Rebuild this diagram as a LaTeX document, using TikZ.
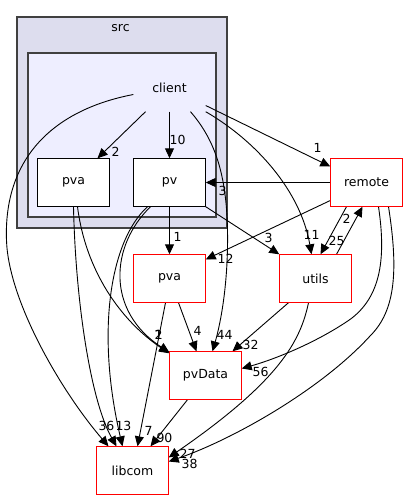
\documentclass[tikz,border=0pt]{standalone}
\usepackage{fontspec}
\setmainfont{DejaVu Sans}
\usetikzlibrary{arrows.meta}
\definecolor{srcfill}{HTML}{DDDDEE}
\definecolor{clientfill}{HTML}{EEEEFF}
\definecolor{clusterline}{HTML}{404040}
\definecolor{dirred}{HTML}{FF0000}
\pgfdeclarelayer{clusterlayer}
\pgfdeclarelayer{edgelayer}
\pgfsetlayers{clusterlayer,edgelayer,main}
\begin{document}
\begin{tikzpicture}
[x=1pt,y=-1pt,
  font=\fontsize{12.5}{14}\selectfont,
  clusterdecorate/.style={draw=clusterline,line width=2pt},%
  dirbox/.style={shape=rectangle,fill=white,
    minimum width=72pt,minimum height=48pt,inner sep=0pt},%
  dirframe/.style={line width=1pt},%
  dirlabel/.style={shape=rectangle,minimum width=72pt,minimum height=48pt,inner sep=0pt},%
  linedecorate/.style={-{Triangle[length=10pt,width=9pt]},line width=0.9pt},%
  edgelabel/.style={inner sep=0pt}]
\useasboundingbox (-0.5,-0.5) rectangle (407.5,499.5);
%% clusters
\begin{pgfonlayer}{clusterlayer}
\draw[clusterdecorate,fill=srcfill] (16.5,16.5) rectangle (226.5,227.5);
\draw[clusterdecorate,fill=clientfill] (27.5,52.5) rectangle (215.5,216.5);
\end{pgfonlayer}
\node (srclabel) at (120,28) {src};
\node (client) at (169,87) [dirlabel] {client};
%% nodes or directories
\foreach \nodename/\x/\y/\nodetext in {pvain/73/182/pva, pv/169/182/pv,
  remote/366/182/remote, pvaout/169/278/pva, utils/315/278/utils,
  pvdata/205/375/pvData, libcom/132/470/libcom} {
  \node (\nodename) at (\x,\y) [dirbox] {\nodetext};
}
\begin{pgfonlayer}{edgelayer}
%% straight edges
\foreach \startnode/\fdx/\fdy/\endnode/\tdx/\tdy/\lx/\ly/\num in {
  client.south/-24/0/pvain.north/24/0/115/151/2,
  client.south/0/0/pv.north/0/0/177/139/10,
  client.east/0/18/remote.west/0/-16/317/147/1,
  remote.west/0/0/pv.east/0/0/222/190/3,
  pv.south east/0/0/utils.north west/0/0/268/237/3,
  remote.west/0/18/pvaout.east/0/-19/225/258/12,
  remote.south/-20/0/utils.north/5/0/336/240/25,
  utils.north/21/0/remote.south/-4/0/346/218/2,
  utils.south/-27/0/pvdata.north/27/0/250/344/32,
  pv.south/0/0/pvaout.north/0/0/177/236/1,
  pvaout.south/9/0/pvdata.north/-9/0/197/330/4,
  pvaout.south/-4/0/libcom.north/5/0/148/430/7,
  pvdata.south/-18/0/libcom.north/18/0/164/437/90} {
  \draw[linedecorate] ([shift={(\fdx,\fdy)}]\startnode)
    -- ([shift={(\tdx,\tdy)}]\endnode) node[edgelabel] at (\lx,\ly) {\num};
}
%% curved edges
\draw[linedecorate] ([shift={(0,7)}]client.west) .. controls (50,110) and (3,160)
  .. (6,240) .. controls (8,300) and (60,390) .. ([shift={(-24,0)}]libcom.north)
  node[edgelabel] at (106,425) {36};
\draw[linedecorate] ([shift={(21,0)}]client.south) .. controls (215,140) and (226,175)
  .. (227,230) .. controls (228,290) and (218,330) .. ([shift={(7,0)}]pvdata.north)
  node[edgelabel] at (224,334) {44};
\draw[linedecorate] (client.south east) .. controls (255,140) and (300,190)
  .. ([shift={(-4,0)}]utils.north) node[edgelabel] at (311,234) {11};
\draw[linedecorate] ([shift={(12,0)}]remote.south) .. controls (386,260) and (380,300)
  .. (345,322) .. controls (310,345) and (270,360) .. ([shift={(0,-7)}]pvdata.east)
  node[edgelabel] at (260,371) {56};
\draw[linedecorate] ([shift={(22,0)}]remote.south) .. controls (398,270) and (395,310)
  .. (370,335) .. controls (320,390) and (230,440) .. ([shift={(0,-9)}]libcom.east)
  node[edgelabel] at (189,463) {38};
\draw[linedecorate] ([shift={(-7,0)}]utils.south) .. controls (300,340) and (280,380)
  .. ([shift={(0,-13)}]libcom.east) node[edgelabel] at (187,453) {27};
\draw[linedecorate] (pvain.south) .. controls (75,300) and (90,400)
  .. ([shift={(-16,0)}]libcom.north);
\draw[linedecorate] ([shift={(4,0)}]pvain.south) .. controls (85,270) and (120,320)
  .. ([shift={(0,2)}]pvdata.north west) node[edgelabel] at (158,334) {1};
\draw[linedecorate] ([shift={(-19,0)}]pv.south) .. controls (110,245) and (105,310)
  .. ([shift={(0,1)}]pvdata.north west) node[edgelabel] at (158,334) {2};
\draw[linedecorate] ([shift={(-22,0)}]pv.south) .. controls (110,240) and (95,330)
  .. ([shift={(-10,0)}]libcom.north) node[edgelabel] at (123,425) {13};
\end{pgfonlayer}
%% directory frames
\foreach \nodename/\nodecolor in {pvain/black, pv/black, remote/dirred,
  pvaout/dirred, utils/dirred, pvdata/dirred, libcom/dirred} {
  \draw[dirframe,draw=\nodecolor] (\nodename.north west) rectangle (\nodename.south east);
}
\end{tikzpicture}
\end{document}
